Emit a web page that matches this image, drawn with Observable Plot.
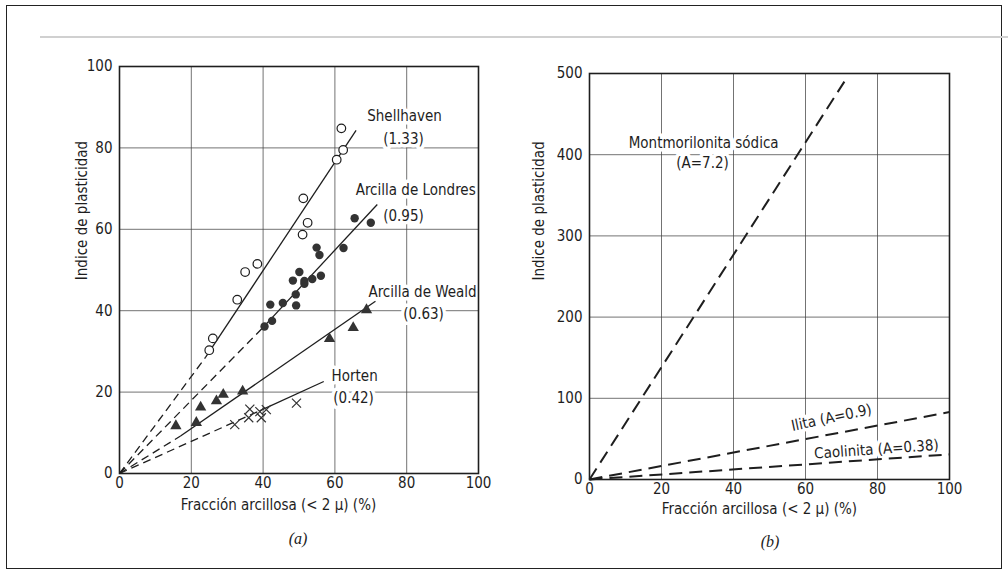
<!DOCTYPE html>
<html><head><meta charset="utf-8">
<script src="https://cdn.jsdelivr.net/npm/d3@7"></script>
<script src="https://cdn.jsdelivr.net/npm/@observablehq/plot@0.6"></script>
<style>
body{margin:0;background:#fff;}
#wrap{position:relative;width:1008px;height:577px;overflow:hidden;background:#fff;}
#border{position:absolute;left:6px;top:5px;width:994px;height:562px;border:1.5px solid #222;}
#rule{position:absolute;left:40px;top:36px;width:968px;height:2px;background:#d0d0d0;}
#left{position:absolute;left:0;top:0;}
#right{position:absolute;left:480px;top:0;}
.cap{position:absolute;font-family:"Liberation Serif","DejaVu Serif",serif;font-style:italic;font-size:16px;color:#222;transform:translate(-50%,-50%);}
</style></head>
<body>
<div id="wrap">
  <div id="border"></div>
  <div id="rule"></div>
  <div id="left"></div>
  <div id="right"></div>
  <div class="cap" style="left:298px;top:539px">(a)</div>
  <div class="cap" style="left:770px;top:542px">(b)</div>
</div>
<script>
const FONT = '"Liberation Sans Narrow","DejaVu Sans Condensed","Roboto",sans-serif';

// ---- Panel (a) data ----
const xTicks = [0, 20, 40, 60, 80, 100];
const yTicksA = [0, 20, 40, 60, 80, 100];
const yTicksB = [0, 100, 200, 300, 400, 500];

const shellhavenX = [61.8, 62.3, 60.5, 51.2, 52.4, 51.0, 38.4, 35.0, 32.8, 26.0, 25.0];
const shellhavenY = [84.8, 79.5, 77.1, 67.6, 61.6, 58.7, 51.5, 49.5, 42.7, 33.2, 30.3];

const londresX = [65.5, 70.0, 62.4, 54.9, 55.7, 50.1, 48.3, 51.5, 53.7, 56.1, 51.5, 49.1, 49.2, 45.5, 42.0, 42.5, 40.4];
const londresY = [62.7, 61.6, 55.4, 55.5, 53.7, 49.5, 47.4, 47.3, 47.8, 48.6, 46.6, 44.0, 41.3, 41.9, 41.5, 37.5, 36.1];

const wealdX = [68.8, 65.1, 58.5, 34.3, 28.9, 27.0, 22.6, 21.4, 15.7];
const wealdY = [40.2, 35.8, 33.1, 20.2, 19.4, 17.8, 16.3, 12.5, 11.7];

const hortenX = [49.3, 36.3, 39.1, 40.9, 36.0, 39.5, 32.1];
const hortenY = [17.3, 15.8, 15.2, 15.7, 13.7, 13.7, 12.0];

// fitted lines: dashed from origin to start, solid from start to end
const fitNames  = ["Shellhaven", "Arcilla de Londres", "Arcilla de Weald", "Horten"];
const fitStartX = [24, 40, 17, 39];
const fitStartY = [28.6, 35.9, 9.2, 15.4];
const fitEndX   = [65.9, 71.8, 71.3, 56.9];
const fitEndY   = [84.3, 66.1, 42.3, 22.6];

const annotAText = ["Shellhaven", "(1.33)", "Arcilla de Londres", "(0.95)", "Arcilla de Weald", "(0.63)", "Horten", "(0.42)"];
const annotAX = [79.4, 79.1, 82.5, 79.1, 84.4, 84.7, 65.5, 65.2];
const annotAY = [87.7, 82.1, 69.5, 63.1, 44.5, 39.1, 23.8, 18.4];

// ---- Panel (b) data ----
const clayNames = ["Montmorilonita sódica", "Ilita", "Caolinita"];
const clayEndX = [70.8, 100, 100];
const clayEndY = [490, 83, 31];

const annotBText = ["Montmorilonita sódica", "(A=7.2)", "Ilita (A=0.9)", "Caolinita (A=0.38)"];
const annotBX = [31.7, 31.4, 67.2, 79.7];
const annotBY = [413.8, 389, 76, 37];
const annotBRot = [0, 0, -12, -4];

const yTitle = "Indice de plasticidad";
const xTitle = "Fracción arcillosa (< 2 μ) (%)";

const zip = (xs, ys) => xs.map((x, i) => ({x, y: ys[i]}));
const fitRows = fitNames.map((n, i) => ({n, x0: 0, y0: 0, x1: fitStartX[i], y1: fitStartY[i], x2: fitEndX[i], y2: fitEndY[i]}));
const annotA = annotAText.map((t, i) => ({t, x: annotAX[i], y: annotAY[i]}));
const clayRows = clayNames.map((n, i) => ({n, x0: 0, y0: 0, x1: clayEndX[i], y1: clayEndY[i]}));
const annotB = annotBText.map((t, i) => ({t, x: annotBX[i], y: annotBY[i], r: annotBRot[i]}));

const gridStyle = {stroke: "#444", strokeOpacity: 0.75, strokeWidth: 1};
const ink = "#1e1e1e";

const plotA = Plot.plot({
  width: 500, height: 540,
  marginLeft: 119, marginRight: 22, marginTop: 66, marginBottom: 67,
  style: {fontFamily: FONT, fontSize: "15px", color: ink, background: "transparent", overflow: "visible"},
  x: {domain: [0, 100], label: null},
  y: {domain: [0, 100], label: null},
  marks: [
    Plot.gridX(xTicks, gridStyle),
    Plot.gridY(yTicksA, gridStyle),
    Plot.axisX(xTicks, {tickSize: 0, tickPadding: 4, label: null, fontSize: 15}),
    Plot.axisY(yTicksA, {tickSize: 0, tickPadding: 7, label: null, fontSize: 15}),
    Plot.text(annotA, {x: "x", y: "y", text: "t", fill: ink, stroke: "white", strokeWidth: 7, fontSize: 15}),
    Plot.link(fitRows, {x1: "x0", y1: "y0", x2: "x1", y2: "y1", stroke: ink, strokeWidth: 1.3, strokeDasharray: "8,5"}),
    Plot.link(fitRows, {x1: "x1", y1: "y1", x2: "x2", y2: "y2", stroke: ink, strokeWidth: 1.3}),
    Plot.dot(zip(shellhavenX, shellhavenY), {x: "x", y: "y", r: 4.3, stroke: ink, strokeWidth: 1.2, fill: "white"}),
    Plot.dot(zip(londresX, londresY), {x: "x", y: "y", r: 4.2, fill: "#333", stroke: "none"}),
    Plot.dot(zip(wealdX, wealdY), {x: "x", y: "y", symbol: "triangle", r: 4.2, fill: "#333", stroke: "none"}),
    Plot.dot(zip(hortenX, hortenY), {x: "x", y: "y", symbol: "times", r: 4.2, stroke: "#333", strokeWidth: 1.2, fill: "none"}),
    Plot.frame({stroke: ink, strokeWidth: 1.6}),
    Plot.text([yTitle], {frameAnchor: "left", y: 47.5, rotate: -90, dx: -37, fill: ink, fontSize: 15}),
    Plot.text([xTitle], {x: 44.3, frameAnchor: "bottom", dy: 36, fill: ink, fontSize: 15})
  ]
});
document.getElementById("left").appendChild(plotA);

const plotB = Plot.plot({
  width: 528, height: 540,
  marginLeft: 109, marginRight: 59, marginTop: 73, marginBottom: 61,
  style: {fontFamily: FONT, fontSize: "15px", color: ink, background: "transparent", overflow: "visible"},
  x: {domain: [0, 100], label: null},
  y: {domain: [0, 500], label: null},
  marks: [
    Plot.gridX(xTicks, gridStyle),
    Plot.gridY(yTicksB, gridStyle),
    Plot.axisX(xTicks, {tickSize: 0, tickPadding: 4, label: null, fontSize: 15}),
    Plot.axisY(yTicksB, {tickSize: 0, tickPadding: 7, label: null, fontSize: 15}),
    Plot.text(annotB, {x: "x", y: "y", text: "t", rotate: "r", fill: ink, stroke: "white", strokeWidth: 7, fontSize: 15}),
    Plot.link(clayRows, {x1: "x0", y1: "y0", x2: "x1", y2: "y1", stroke: ink, strokeWidth: 2, strokeDasharray: "13,7"}),
    Plot.frame({stroke: ink, strokeWidth: 1.6}),
    Plot.text([yTitle], {frameAnchor: "left", y: 245, rotate: -90, dx: -50, fill: ink, fontSize: 15}),
    Plot.text([xTitle], {x: 47.2, frameAnchor: "bottom", dy: 34, fill: ink, fontSize: 15})
  ]
});
document.getElementById("right").appendChild(plotB);
</script>
</body></html>
